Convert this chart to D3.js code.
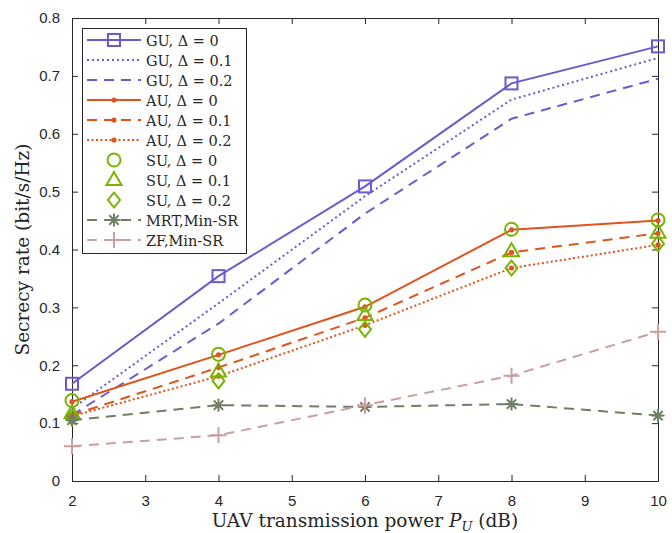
<!DOCTYPE html>
<html>
<head>
<meta charset="utf-8">
<script src="https://cdn.jsdelivr.net/npm/d3@7"></script>
<style>
  body { margin: 0; background: #ffffff; }
  svg { display: block; }
</style>
</head>
<body>
<script>
// values
var powers = [2, 4, 6, 8, 10];
var xTicks = [2, 3, 4, 5, 6, 7, 8, 9, 10];
var yTicks = [0, 0.1, 0.2, 0.3, 0.4, 0.5, 0.6, 0.7, 0.8];

var gu0 = [0.168, 0.354, 0.509, 0.687, 0.751];
var gu1 = [0.125, 0.307, 0.492, 0.659, 0.731];
var gu2 = [0.114, 0.272, 0.462, 0.626, 0.695];
var au0 = [0.137, 0.218, 0.301, 0.434, 0.450];
var au1 = [0.114, 0.196, 0.282, 0.395, 0.428];
var au2 = [0.112, 0.181, 0.269, 0.368, 0.408];
var su0 = [0.139, 0.219, 0.304, 0.435, 0.451];
var su1 = [0.117, 0.189, 0.287, 0.397, 0.429];
var su2 = [0.110, 0.173, 0.262, 0.368, 0.410];
var mrt = [0.105, 0.131, 0.128, 0.133, 0.113];
var zf = [0.060, 0.079, 0.131, 0.182, 0.258];

var seriesNames = ["GU, \u0394 = 0", "GU, \u0394 = 0.1", "GU, \u0394 = 0.2",
                   "AU, \u0394 = 0", "AU, \u0394 = 0.1", "AU, \u0394 = 0.2",
                   "SU, \u0394 = 0", "SU, \u0394 = 0.1", "SU, \u0394 = 0.2",
                   "MRT,Min-SR", "ZF,Min-SR"];

var purple = "#6a5acd", orange = "#e0531c", green = "#77b300", grayGreen = "#6f7f65", pink = "#c9a0a0";

var series = [
  {name: seriesNames[0], values: gu0, color: purple, dash: null, marker: "square"},
  {name: seriesNames[1], values: gu1, color: purple, dash: "2,3", marker: null},
  {name: seriesNames[2], values: gu2, color: purple, dash: "10,7", marker: null},
  {name: seriesNames[3], values: au0, color: orange, dash: null, marker: "dot"},
  {name: seriesNames[4], values: au1, color: orange, dash: "10,7", marker: "dot"},
  {name: seriesNames[5], values: au2, color: orange, dash: "2,2.5", marker: "dot"},
  {name: seriesNames[6], values: su0, color: green, dash: "none", marker: "circle"},
  {name: seriesNames[7], values: su1, color: green, dash: "none", marker: "triangle"},
  {name: seriesNames[8], values: su2, color: green, dash: "none", marker: "diamond"},
  {name: seriesNames[9], values: mrt, color: grayGreen, dash: "10,7", marker: "asterisk"},
  {name: seriesNames[10], values: zf, color: pink, dash: "10,7", marker: "plus"}
];

var w = 672, h = 533;
var margin = {left: 72, right: 14, top: 18, bottom: 52};
var axisColor = "#262626";
var serif = "DejaVu Serif, Liberation Serif, serif";

var svg = d3.select("body").append("svg").attr("width", w).attr("height", h);

var x = d3.scaleLinear().domain([2, 10]).range([margin.left, w - margin.right]);
var y = d3.scaleLinear().domain([0, 0.8]).range([h - margin.bottom, margin.top]);

// axes, MATLAB style box with inward ticks
svg.append("g")
  .attr("transform", "translate(0," + y(0) + ")")
  .call(d3.axisBottom(x).tickValues(xTicks).tickSizeInner(-6).tickSizeOuter(0).tickPadding(14).tickFormat(d3.format("d")))
  .call(g => g.select(".domain").attr("stroke", axisColor))
  .call(g => g.selectAll(".tick line").attr("stroke", axisColor))
  .call(g => g.selectAll("text").attr("fill", "#262626").style("font-family", "Liberation Sans, Arial, sans-serif").style("font-size", "15px"));

svg.append("g")
  .attr("transform", "translate(" + x(2) + ",0)")
  .call(d3.axisLeft(y).tickValues(yTicks).tickSizeInner(-6).tickSizeOuter(0).tickPadding(12).tickFormat(d => d === 0 ? "0" : d3.format(".1f")(d)))
  .call(g => g.select(".domain").attr("stroke", axisColor))
  .call(g => g.selectAll(".tick line").attr("stroke", axisColor))
  .call(g => g.selectAll("text").attr("fill", "#262626").style("font-family", "Liberation Sans, Arial, sans-serif").style("font-size", "15px"));

svg.append("g")
  .attr("transform", "translate(0," + y(0.8) + ")")
  .call(d3.axisTop(x).tickValues(xTicks).tickSizeInner(-6).tickSizeOuter(0).tickFormat(""))
  .call(g => g.select(".domain").attr("stroke", axisColor))
  .call(g => g.selectAll(".tick line").attr("stroke", axisColor));

svg.append("g")
  .attr("transform", "translate(" + x(10) + ",0)")
  .call(d3.axisRight(y).tickValues(yTicks).tickSizeInner(-6).tickSizeOuter(0).tickFormat(""))
  .call(g => g.select(".domain").attr("stroke", axisColor))
  .call(g => g.selectAll(".tick line").attr("stroke", axisColor));

// axis labels
svg.append("text")
  .attr("x", (x(2) + x(10)) / 2)
  .attr("y", 527)
  .attr("text-anchor", "middle")
  .style("font-family", serif)
  .style("font-size", "18.5px")
  .attr("fill", "#262626")
  .call(t => {
    t.append("tspan").text("UAV transmission power ");
    t.append("tspan").attr("font-style", "italic").text("P");
    t.append("tspan").attr("font-style", "italic").attr("font-size", "13px").attr("dy", 4).text("U");
    t.append("tspan").attr("dy", -4).text(" (dB)");
  });

svg.append("text")
  .attr("transform", "translate(29," + ((y(0) + y(0.8)) / 2) + ") rotate(-90)")
  .attr("text-anchor", "middle")
  .style("font-family", serif)
  .style("font-size", "18.5px")
  .attr("fill", "#262626")
  .text("Secrecy rate (bit/s/Hz)");

// marker shapes drawn around (0,0)
function drawMarker(g, type, color) {
  if (type === "square") {
    g.append("rect").attr("x", -6).attr("y", -6).attr("width", 12).attr("height", 12)
      .attr("fill", "none").attr("stroke", color).attr("stroke-width", 2);
  } else if (type === "dot") {
    g.append("circle").attr("r", 2.6).attr("fill", color);
  } else if (type === "circle") {
    g.append("circle").attr("r", 6.5).attr("fill", "none").attr("stroke", color).attr("stroke-width", 2);
  } else if (type === "triangle") {
    g.append("path").attr("d", "M0,-8L7.5,5L-7.5,5Z").attr("fill", "none").attr("stroke", color).attr("stroke-width", 2);
  } else if (type === "diamond") {
    g.append("path").attr("d", "M0,-7.5L6,0L0,7.5L-6,0Z").attr("fill", "none").attr("stroke", color).attr("stroke-width", 2);
  } else if (type === "asterisk") {
    var r = 6.5, d = r * 0.72;
    g.append("path").attr("d", "M0," + -r + "V" + r + "M" + -r + ",0H" + r +
        "M" + -d + "," + -d + "L" + d + "," + d + "M" + -d + "," + d + "L" + d + "," + -d)
      .attr("fill", "none").attr("stroke", color).attr("stroke-width", 2);
  } else if (type === "plus") {
    g.append("path").attr("d", "M0,-8V8M-8,0H8").attr("fill", "none").attr("stroke", color).attr("stroke-width", 2);
  }
}

var line = d3.line().x((d, i) => x(powers[i])).y(d => y(d));

var plot = svg.append("g");
series.forEach(function(s) {
  if (s.dash !== "none") {
    plot.append("path")
      .datum(s.values)
      .attr("d", line)
      .attr("fill", "none")
      .attr("stroke", s.color)
      .attr("stroke-width", 2)
      .attr("stroke-dasharray", s.dash);
  }
  if (s.marker) {
    s.values.forEach(function(v, i) {
      var m = plot.append("g").attr("transform", "translate(" + x(powers[i]) + "," + y(v) + ")");
      drawMarker(m, s.marker, s.color);
    });
  }
});

// legend
var legend = svg.append("g").attr("transform", "translate(82,28)");
legend.append("rect")
  .attr("x", 0.5).attr("y", 0.5)
  .attr("width", 164).attr("height", 225)
  .attr("fill", "#ffffff")
  .attr("stroke", axisColor)
  .attr("stroke-width", 1);

series.forEach(function(s, i) {
  var row = legend.append("g").attr("transform", "translate(0," + (12 + i * 20) + ")");
  if (s.dash !== "none") {
    row.append("line").attr("x1", 5).attr("x2", 59).attr("y1", 0).attr("y2", 0)
      .attr("stroke", s.color).attr("stroke-width", 2).attr("stroke-dasharray", s.dash);
  }
  if (s.marker) {
    drawMarker(row.append("g").attr("transform", "translate(32,0)"), s.marker, s.color);
  }
  row.append("text")
    .attr("x", 64).attr("y", 5.5)
    .style("font-family", serif)
    .style("font-size", "14.5px")
    .attr("fill", "#262626")
    .text(s.name);
});
</script>
</body>
</html>
